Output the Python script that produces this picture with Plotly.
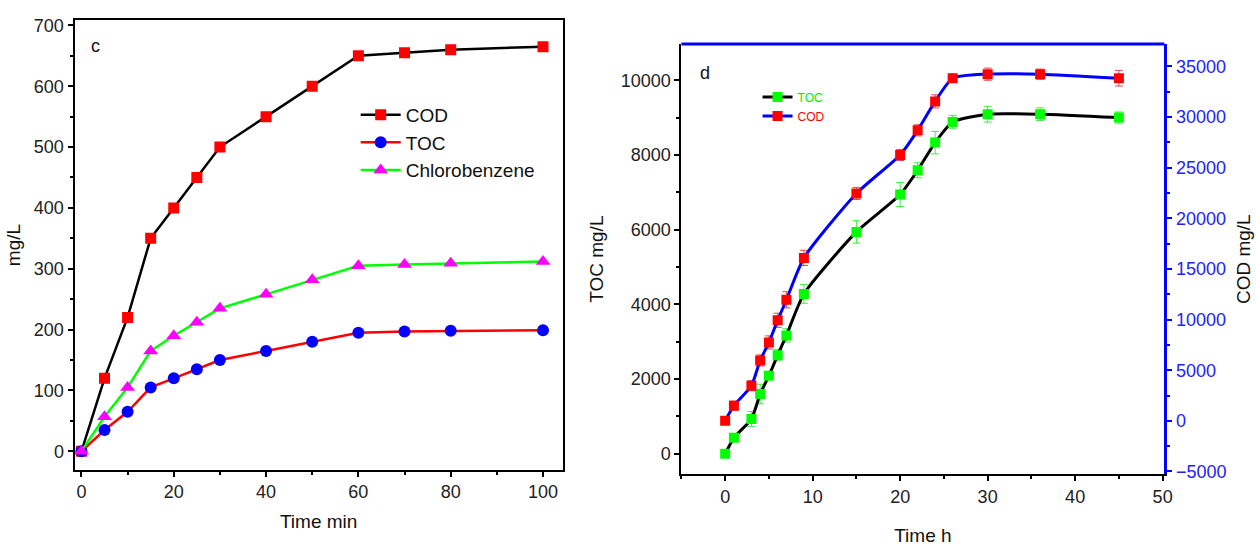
import plotly.graph_objects as go

# Panel c
t_min = [0, 5, 10, 15, 20, 25, 30, 40, 50, 60, 70, 80, 100]
cod_c = [0, 120, 220, 350, 400, 450, 500, 550, 600, 650, 655, 660, 665]
toc_c = [0, 35, 65, 105, 120, 135, 150, 165, 180, 195, 197, 198, 199]
cb_c = [0, 57, 105, 165, 190, 212, 235, 258, 282, 305, 307, 309, 312]

# Panel d
t_h = [0, 1, 3, 4, 5, 6, 7, 9, 15, 20, 22, 24, 26, 30, 36, 45]
toc_d = [0, 430, 930, 1600, 2090, 2640, 3170, 4280, 5940, 6940, 7590, 8330, 8880, 9090, 9090, 9000]
toc_err = [50, 80, 200, 260, 100, 150, 180, 250, 300, 320, 200, 300, 180, 210, 170, 150]
cod_d = [0, 1500, 3470, 5960, 7740, 9930, 11950, 16090, 22460, 26260, 28690, 31550, 33840, 34240, 34240, 33840]
cod_err = [200, 450, 500, 550, 650, 700, 800, 750, 600, 550, 550, 650, 400, 600, 500, 775]

FONT = "Liberation Sans Narrow, Liberation Sans, Arial"
TFONT = "Liberation Sans, Arial"
fig = go.Figure()

fig.add_trace(go.Scatter(x=t_min, y=cod_c, name="COD", mode="lines+markers",
                         line=dict(color="black", width=2.5),
                         marker=dict(symbol="square", color="#ff0000", size=11),
                         xaxis="x", yaxis="y", legend="legend"))
fig.add_trace(go.Scatter(x=t_min, y=toc_c, name="TOC", mode="lines+markers",
                         line=dict(color="#ff0000", width=2.5),
                         marker=dict(symbol="circle", color="#0000ff", size=12),
                         xaxis="x", yaxis="y", legend="legend"))
fig.add_trace(go.Scatter(x=t_min, y=cb_c, name="Chlorobenzene", mode="lines+markers",
                         line=dict(color="#00ff00", width=2.5),
                         marker=dict(symbol="triangle-up", color="#ff00ff", size=13),
                         xaxis="x", yaxis="y", legend="legend"))

fig.add_trace(go.Scatter(x=t_h, y=toc_d, name="<span style='color:#00ee00'>TOC</span>",
                         mode="lines+markers",
                         line=dict(color="black", width=3, shape="spline", smoothing=0.6),
                         marker=dict(symbol="square", color="#00ff00", size=10),
                         error_y=dict(type="data", array=toc_err, color="#44ee44", thickness=1, width=4),
                         xaxis="x2", yaxis="y2", legend="legend2"))
fig.add_trace(go.Scatter(x=t_h, y=cod_d, name="<span style='color:#ff0000'>COD</span>",
                         mode="lines+markers",
                         line=dict(color="#0000ff", width=3, shape="spline", smoothing=0.6),
                         marker=dict(symbol="square", color="#ff0000", size=10),
                         error_y=dict(type="data", array=cod_err, color="#ee4444", thickness=1, width=4),
                         xaxis="x2", yaxis="y3", legend="legend2"))

axis_common = dict(showgrid=False, zeroline=False, showline=True, linecolor="black",
                   linewidth=2, ticks="outside", tickcolor="black", tickwidth=2, ticklen=5,
                   tickfont=dict(family=FONT, size=18, color="#222222"))

fig.update_layout(
    width=1256, height=546, margin=dict(l=0, r=0, t=0, b=0),
    paper_bgcolor="white", plot_bgcolor="white", showlegend=True,
    xaxis=dict(**axis_common, domain=[0.0597, 0.451], range=[-1.5, 104.3],
               tickvals=[0, 20, 40, 60, 80, 100], mirror=True, anchor="y",
               minor=dict(tickvals=[10, 30, 50, 70, 90], ticks="outside", ticklen=3, tickcolor="black"),
               title=dict(text="Time min", font=dict(family=TFONT, size=19, color="#111"), standoff=14)),
    yaxis=dict(**axis_common, domain=[0.130, 0.971], range=[-30, 708],
               tickvals=[0, 100, 200, 300, 400, 500, 600, 700], mirror=True, anchor="x",
               minor=dict(tickvals=[50, 150, 250, 350, 450, 550, 650], ticks="outside", ticklen=3, tickcolor="black"),
               title=dict(text="mg/L", font=dict(family=TFONT, size=19, color="#111"), standoff=8)),
    xaxis2=dict(**axis_common, domain=[0.546, 0.933], range=[-5, 50.2],
                tickvals=[0, 10, 20, 30, 40, 50], anchor="y2",
                minor=dict(tickvals=[-5, 5, 15, 25, 35, 45], ticks="outside", ticklen=3, tickcolor="black"),
                title=dict(text="Time h", font=dict(family=TFONT, size=19, color="#111"), standoff=24)),
    yaxis2=dict(**axis_common, domain=[0.121, 0.927], range=[-550, 10970],
                tickvals=[0, 2000, 4000, 6000, 8000, 10000], tickformat="d", anchor="x2",
                minor=dict(tickvals=[1000, 3000, 5000, 7000, 9000], ticks="outside", ticklen=3, tickcolor="black"),
                title=dict(text="TOC mg/L", font=dict(family=TFONT, size=19, color="#111"), standoff=12)),
    yaxis3=dict(showgrid=False, zeroline=False, showline=True, linecolor="#0000ff", linewidth=3,
                ticks="outside", tickcolor="#0000ff", tickwidth=2, ticklen=5,
                tickfont=dict(family=FONT, size=18, color="#2222ff"), tickformat="d",
                overlaying="y2", side="right", anchor="x2", range=[-5290, 37220],
                tickvals=[-5000, 0, 5000, 10000, 15000, 20000, 25000, 30000, 35000],
                minor=dict(tickvals=[-2500, 2500, 7500, 12500, 17500, 22500, 27500, 32500],
                           ticks="outside", ticklen=3, tickcolor="#0000ff"),
                title=dict(text="COD mg/L", font=dict(family=TFONT, size=19, color="#111"), standoff=12)),
    legend=dict(x=0.285, y=0.83, xanchor="left", yanchor="top", bgcolor="rgba(0,0,0,0)",
                font=dict(family=TFONT, size=19, color="#111"), tracegroupgap=2,
                itemwidth=40),
    legend2=dict(x=0.607, y=0.855, xanchor="left", yanchor="top", bgcolor="rgba(0,0,0,0)",
                 font=dict(family=TFONT, size=12), itemwidth=30, tracegroupgap=0),
    shapes=[dict(type="line", xref="x2 domain", yref="y2 domain", x0=0, x1=1, y0=1, y1=1,
                 line=dict(color="#0000ff", width=3))],
    annotations=[
        dict(text="c", xref="x domain", yref="y domain", x=0.03, y=0.97, showarrow=False,
             xanchor="left", yanchor="top", font=dict(family=TFONT, size=18, color="#111")),
        dict(text="d", xref="x2 domain", yref="y2 domain", x=0.035, y=0.96, showarrow=False,
             xanchor="left", yanchor="top", font=dict(family=TFONT, size=18, color="#111")),
    ],
)

fig.write_html("out.html")
